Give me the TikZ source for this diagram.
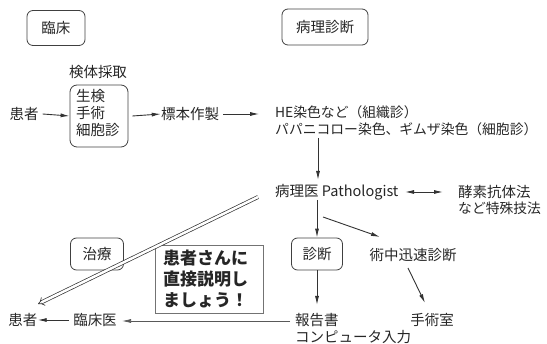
\documentclass[tikz,border=0pt]{standalone}
\usepackage{fontspec}
\setmainfont{Noto Sans CJK JP}
\usetikzlibrary{arrows.meta,positioning}
\begin{document}
\begin{tikzpicture}[x=1pt,y=-1pt,
  every node/.style={font=\fontsize{14.5}{17}\selectfont, text=black!85, inner sep=0pt},
  rbox/.style={draw=black!75, line width=0.8pt, rounded corners=6pt, minimum width=#1, minimum height=33pt},
  arr/.style={draw=black!80, line width=0.9pt, -{Latex[length=9pt,width=4pt]}},
  txt/.style={anchor=west},
  small/.style={font=\fontsize{13.8}{17}\selectfont}
]
\useasboundingbox (0,0) rectangle (547,344);
% top labels
\node[rbox=58pt, minimum height=35pt] (rinsho) at (56,28) {臨床};
\node[rbox=86pt, minimum height=36pt] (byouri) at (325,27) {病理診断};
% row 1
\node (kentai) at (98,72) {検体採取};
\node[draw=black!75, line width=0.8pt, rounded corners=7pt, minimum width=58pt, minimum height=62pt] (sample) at (99,116) {};
\node[anchor=north west, align=left] (sampletxt) at (76,89) {生検\\手術\\細胞診};
\node (kanja1) at (24,114) {患者};
\node (hyouhon) at (190,114) {標本作製};
\node[txt, small] (he1) at (275,112) {HE染色など（組織診）};
\node[txt, small] (he2) at (275,129) {パパニコロー染色、ギムザ染色（細胞診）};
\draw[arr] (kanja1.east) ++(4,0) -- (sample.west);
\draw[arr] (sample.east) ++(4,0) -- (hyouhon.west);
\draw[arr] (hyouhon.east) ++(4,0) -- ++(36,0) coordinate (heend);
% pathologist
\node[txt] (patho) at (275,192) {病理医 Pathologist};
\draw[arr] (318,138) -- (318,180);
\node[txt] (koso1) at (458,192) {酵素抗体法};
\node[txt, small] (koso2) at (458,208) {など特殊技法};
\draw[draw=black!80, line width=0.9pt, {Latex[length=9pt,width=4pt]}-{Latex[length=9pt,width=4pt]}] (405,192) -- (443,192);
% diagnosis
\node[rbox=51pt, minimum height=32pt] (shindan) at (317,254) {診断};
\node (jutsu) at (413,255) {術中迅速診断};
\node (shujutsu) at (432,320) {手術室};
\draw[arr] (317,200) -- (shindan.north);
\draw[arr] (323,217) -- (380,237);
\draw[arr] (408,268) -- (425,303);
\node[txt] (houkoku) at (295,320) {報告書};
\node[txt] (computer) at (295,337) {コンピュータ入力};
\draw[arr] (shindan.south) -- (317,305);
% bottom left
\node (rinshoi) at (95,320) {臨床医};
\node (kanja2) at (23,320) {患者};
\draw[draw=black!65, line width=0.7pt, -{Latex[length=9pt,width=4pt]}] (houkoku.west) ++(-5,1) -- (122,321);
\draw[arr] (rinshoi.west) ++(-4,0) -- (kanja2.east);
\node[rbox=53pt, minimum height=32pt] (chiryou) at (97,254) {治療};
% callout
\node[draw=black!55, line width=0.8pt, fill=white, minimum width=108pt, minimum height=68pt] (callout) at (209,279) {};
\node[anchor=north west, align=left, font=\fontsize{17}{21}\selectfont\bfseries] (callouttxt) at (163,250) {患者さんに\\直接説明し\\ましょう！};
% double arrow
\coordinate (dstart) at (258,197);
\coordinate (dend) at (38,304);
\draw[draw=black!80, line width=0.7pt, double distance=2.5pt, -{Implies[scale=1.3]}] (dstart) -- (dend);
\end{tikzpicture}
\end{document}
